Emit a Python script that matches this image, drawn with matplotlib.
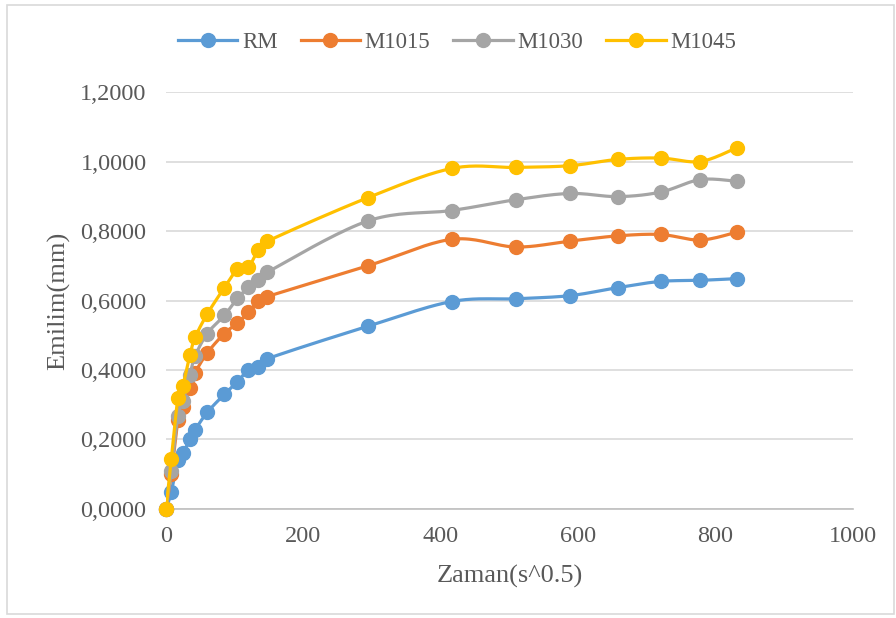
"""Emilim (absorption) vs square root of time, Excel style scatter with smooth lines."""

import matplotlib.pyplot as plt
import numpy as np
from matplotlib.patches import Rectangle
from matplotlib.ticker import FuncFormatter

# square root of time (s^0.5)
zaman = [0, 7.7, 17.3, 24.5, 34.6, 42.4, 60.0, 84.9, 103.9, 120.0,
         134.2, 147.0, 293.9, 415.7, 509.1, 587.9, 657.3, 720.0, 777.7, 831.4]

rm = [0.0, 0.049, 0.141, 0.160, 0.200, 0.228, 0.278, 0.330, 0.366, 0.401,
      0.410, 0.432, 0.526, 0.597, 0.605, 0.614, 0.637, 0.655, 0.658, 0.663]
m1015 = [0.0, 0.100, 0.255, 0.293, 0.348, 0.392, 0.449, 0.505, 0.535, 0.566,
         0.598, 0.611, 0.700, 0.776, 0.754, 0.771, 0.786, 0.790, 0.774, 0.797]
m1030 = [0.0, 0.110, 0.268, 0.310, 0.385, 0.440, 0.505, 0.557, 0.606, 0.638,
         0.660, 0.681, 0.829, 0.859, 0.890, 0.908, 0.899, 0.912, 0.948, 0.943]
m1045 = [0.0, 0.143, 0.319, 0.354, 0.442, 0.494, 0.561, 0.637, 0.690, 0.697,
         0.745, 0.770, 0.896, 0.980, 0.983, 0.988, 1.006, 1.010, 1.000, 1.040]

series_names = ["RM", "M1015", "M1030", "M1045"]
series_values = [rm, m1015, m1030, m1045]
colors = ["#5B9BD5", "#ED7D31", "#A5A5A5", "#FFC000"]

plt.rcParams["font.family"] = ["Liberation Serif", "DejaVu Serif"]


def smooth_line(x, y, steps=20):
    """Catmull-Rom style bezier through the points, like Excel's smoothed line."""
    x = np.asarray(x, dtype=float)
    y = np.asarray(y, dtype=float)
    xs, ys = [x[0]], [y[0]]
    t = np.linspace(0, 1, steps + 1)[1:]
    n = len(x)
    for i in range(n - 1):
        i0, i3 = max(i - 1, 0), min(i + 2, n - 1)
        c1 = (x[i] + (x[i + 1] - x[i0]) / 6, y[i] + (y[i + 1] - y[i0]) / 6)
        c2 = (x[i + 1] - (x[i3] - x[i]) / 6, y[i + 1] - (y[i3] - y[i]) / 6)
        b = [(1 - t) ** 3, 3 * (1 - t) ** 2 * t, 3 * (1 - t) * t ** 2, t ** 3]
        xs.extend(b[0] * x[i] + b[1] * c1[0] + b[2] * c2[0] + b[3] * x[i + 1])
        ys.extend(b[0] * y[i] + b[1] * c1[1] + b[2] * c2[1] + b[3] * y[i + 1])
    return xs, ys


fig = plt.figure(figsize=(8.96, 6.18), dpi=100)
ax = fig.add_axes([0.1853, 0.1764, 0.7667, 0.6747])

handles = []
for k, (name, vals, col) in enumerate(zip(series_names, series_values, colors)):
    # each series drawn on top of the previous one, as Excel does
    sx, sy = smooth_line(zaman, vals)
    ax.plot(sx, sy, color=col, linewidth=2.3, zorder=3 + 2 * k, solid_capstyle="round")
    ax.plot(zaman, vals, linestyle="none", marker="o", markersize=10,
            color=col, zorder=4 + 2 * k, clip_on=False)
    h, = ax.plot([], [], color=col, linewidth=2.3, marker="o", markersize=10, label=name)
    handles.append(h)

ax.set_xlim(0, 1000)
ax.set_ylim(0, 1.2)
ax.set_xticks(np.arange(0, 1001, 200))
ax.set_yticks(np.arange(0, 1.21, 0.2))
ax.yaxis.set_major_formatter(FuncFormatter(lambda v, p: f"{v:.4f}".replace(".", ",")))

ax.grid(axis="y", color="#D9D9D9", linewidth=1.2)
ax.set_axisbelow(True)
for side in ["left", "right", "top"]:
    ax.spines[side].set_visible(False)
ax.spines["bottom"].set_color("#BFBFBF")
ax.spines["bottom"].set_linewidth(1.2)
ax.tick_params(length=0, labelsize=17.5, colors="#595959")
ax.tick_params(axis="y", pad=14)
ax.tick_params(axis="x", pad=12)

ax.set_xlabel("Zaman(s^0.5)", fontsize=19, color="#595959")
ax.set_ylabel("Emilim(mm)", fontsize=19, color="#595959")
ax.xaxis.set_label_coords(0.5, -0.135)
ax.yaxis.set_label_coords(-0.14, 0.5)

fig.legend(handles=handles, loc="center", bbox_to_anchor=(457 / 896, 0.932),
           ncol=4, frameon=False, fontsize=16.5, handlelength=2.6,
           handletextpad=0.2, columnspacing=1.0, labelcolor="#595959")

fig.patches.append(Rectangle((0.008, 0.006), 0.99, 0.986, transform=fig.transFigure,
                             fill=False, edgecolor="#D9D9D9", linewidth=1.2))

fig.savefig("out.png", dpi=100)
